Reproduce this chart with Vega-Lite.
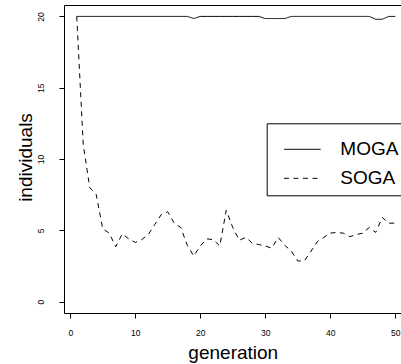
{
  "$schema": "https://vega.github.io/schema/vega-lite/v6.json",
  "width": 337.5,
  "height": 308,
  "autosize": {"type": "none"},
  "padding": {"left": 64, "top": 5, "right": 0, "bottom": 51},
  "background": "white",
  "config": {
    "view": {"stroke": "black", "strokeWidth": 1},
    "font": "Liberation Sans",
    "axis": {"labelFont": "Liberation Sans", "titleFont": "Liberation Sans", "tickColor": "black", "labelColor": "black", "titleColor": "black", "grid": false, "domain": false}
  },
  "data": {"values": [
    {"gen": 1, "individuals": 20, "method": "MOGA"},
    {"gen": 2, "individuals": 20, "method": "MOGA"},
    {"gen": 3, "individuals": 20, "method": "MOGA"},
    {"gen": 4, "individuals": 20, "method": "MOGA"},
    {"gen": 5, "individuals": 20, "method": "MOGA"},
    {"gen": 6, "individuals": 20, "method": "MOGA"},
    {"gen": 7, "individuals": 20, "method": "MOGA"},
    {"gen": 8, "individuals": 20, "method": "MOGA"},
    {"gen": 9, "individuals": 20, "method": "MOGA"},
    {"gen": 10, "individuals": 20, "method": "MOGA"},
    {"gen": 11, "individuals": 20, "method": "MOGA"},
    {"gen": 12, "individuals": 20, "method": "MOGA"},
    {"gen": 13, "individuals": 20, "method": "MOGA"},
    {"gen": 14, "individuals": 20, "method": "MOGA"},
    {"gen": 15, "individuals": 20, "method": "MOGA"},
    {"gen": 16, "individuals": 20, "method": "MOGA"},
    {"gen": 17, "individuals": 20, "method": "MOGA"},
    {"gen": 18, "individuals": 20, "method": "MOGA"},
    {"gen": 19, "individuals": 19.85, "method": "MOGA"},
    {"gen": 20, "individuals": 20, "method": "MOGA"},
    {"gen": 21, "individuals": 20, "method": "MOGA"},
    {"gen": 22, "individuals": 20, "method": "MOGA"},
    {"gen": 23, "individuals": 20, "method": "MOGA"},
    {"gen": 24, "individuals": 20, "method": "MOGA"},
    {"gen": 25, "individuals": 20, "method": "MOGA"},
    {"gen": 26, "individuals": 20, "method": "MOGA"},
    {"gen": 27, "individuals": 20, "method": "MOGA"},
    {"gen": 28, "individuals": 20, "method": "MOGA"},
    {"gen": 29, "individuals": 20, "method": "MOGA"},
    {"gen": 30, "individuals": 19.85, "method": "MOGA"},
    {"gen": 31, "individuals": 19.85, "method": "MOGA"},
    {"gen": 32, "individuals": 19.85, "method": "MOGA"},
    {"gen": 33, "individuals": 19.85, "method": "MOGA"},
    {"gen": 34, "individuals": 20, "method": "MOGA"},
    {"gen": 35, "individuals": 20, "method": "MOGA"},
    {"gen": 36, "individuals": 20, "method": "MOGA"},
    {"gen": 37, "individuals": 20, "method": "MOGA"},
    {"gen": 38, "individuals": 20, "method": "MOGA"},
    {"gen": 39, "individuals": 20, "method": "MOGA"},
    {"gen": 40, "individuals": 20, "method": "MOGA"},
    {"gen": 41, "individuals": 20, "method": "MOGA"},
    {"gen": 42, "individuals": 20, "method": "MOGA"},
    {"gen": 43, "individuals": 20, "method": "MOGA"},
    {"gen": 44, "individuals": 20, "method": "MOGA"},
    {"gen": 45, "individuals": 20, "method": "MOGA"},
    {"gen": 46, "individuals": 20, "method": "MOGA"},
    {"gen": 47, "individuals": 19.8, "method": "MOGA"},
    {"gen": 48, "individuals": 19.8, "method": "MOGA"},
    {"gen": 49, "individuals": 20, "method": "MOGA"},
    {"gen": 50, "individuals": 20, "method": "MOGA"},
    {"gen": 1, "individuals": 20, "method": "SOGA"},
    {"gen": 2, "individuals": 11, "method": "SOGA"},
    {"gen": 3, "individuals": 8.0, "method": "SOGA"},
    {"gen": 4, "individuals": 7.5, "method": "SOGA"},
    {"gen": 5, "individuals": 5.1, "method": "SOGA"},
    {"gen": 6, "individuals": 4.8, "method": "SOGA"},
    {"gen": 7, "individuals": 3.85, "method": "SOGA"},
    {"gen": 8, "individuals": 4.75, "method": "SOGA"},
    {"gen": 9, "individuals": 4.4, "method": "SOGA"},
    {"gen": 10, "individuals": 4.15, "method": "SOGA"},
    {"gen": 11, "individuals": 4.35, "method": "SOGA"},
    {"gen": 12, "individuals": 4.7, "method": "SOGA"},
    {"gen": 13, "individuals": 5.4, "method": "SOGA"},
    {"gen": 14, "individuals": 6.1, "method": "SOGA"},
    {"gen": 15, "individuals": 6.3, "method": "SOGA"},
    {"gen": 16, "individuals": 5.5, "method": "SOGA"},
    {"gen": 17, "individuals": 5.2, "method": "SOGA"},
    {"gen": 18, "individuals": 3.95, "method": "SOGA"},
    {"gen": 19, "individuals": 3.2, "method": "SOGA"},
    {"gen": 20, "individuals": 3.9, "method": "SOGA"},
    {"gen": 21, "individuals": 4.4, "method": "SOGA"},
    {"gen": 22, "individuals": 4.35, "method": "SOGA"},
    {"gen": 23, "individuals": 3.9, "method": "SOGA"},
    {"gen": 24, "individuals": 6.4, "method": "SOGA"},
    {"gen": 25, "individuals": 5.2, "method": "SOGA"},
    {"gen": 26, "individuals": 4.3, "method": "SOGA"},
    {"gen": 27, "individuals": 4.5, "method": "SOGA"},
    {"gen": 28, "individuals": 4.1, "method": "SOGA"},
    {"gen": 29, "individuals": 4.0, "method": "SOGA"},
    {"gen": 30, "individuals": 3.9, "method": "SOGA"},
    {"gen": 31, "individuals": 3.75, "method": "SOGA"},
    {"gen": 32, "individuals": 4.5, "method": "SOGA"},
    {"gen": 33, "individuals": 3.95, "method": "SOGA"},
    {"gen": 34, "individuals": 3.55, "method": "SOGA"},
    {"gen": 35, "individuals": 2.85, "method": "SOGA"},
    {"gen": 36, "individuals": 2.85, "method": "SOGA"},
    {"gen": 37, "individuals": 3.5, "method": "SOGA"},
    {"gen": 38, "individuals": 4.2, "method": "SOGA"},
    {"gen": 39, "individuals": 4.5, "method": "SOGA"},
    {"gen": 40, "individuals": 4.8, "method": "SOGA"},
    {"gen": 41, "individuals": 4.85, "method": "SOGA"},
    {"gen": 42, "individuals": 4.8, "method": "SOGA"},
    {"gen": 43, "individuals": 4.55, "method": "SOGA"},
    {"gen": 44, "individuals": 4.7, "method": "SOGA"},
    {"gen": 45, "individuals": 4.8, "method": "SOGA"},
    {"gen": 46, "individuals": 5.2, "method": "SOGA"},
    {"gen": 47, "individuals": 4.85, "method": "SOGA"},
    {"gen": 48, "individuals": 5.9, "method": "SOGA"},
    {"gen": 49, "individuals": 5.5, "method": "SOGA"},
    {"gen": 50, "individuals": 5.5, "method": "SOGA"}
  ]},
  "mark": {"type": "line", "strokeWidth": 1, "color": "black"},
  "encoding": {
    "x": {
      "field": "gen", "type": "quantitative",
      "scale": {"domain": [-0.96, 50.96], "nice": false, "zero": false},
      "axis": {"values": [0, 10, 20, 30, 40, 50], "title": "generation", "tickSize": 5, "labelFontSize": 8.5, "labelBaseline": "alphabetic", "labelPadding": 17, "labelFlush": false, "labelOverlap": false, "titleFontSize": 19, "titleFontWeight": "normal", "titleBaseline": "alphabetic", "titleY": 45}
    },
    "y": {
      "field": "individuals", "type": "quantitative",
      "scale": {"domain": [-0.8, 20.8], "nice": false, "zero": false},
      "axis": {"values": [0, 5, 10, 15, 20], "title": "individuals", "tickSize": 5, "labelFontSize": 8.5, "labelAngle": -90, "labelAlign": "center", "labelBaseline": "alphabetic", "labelPadding": 16, "labelFlush": false, "labelOverlap": false, "titleFontSize": 19, "titleFontWeight": "normal", "titleAngle": -90, "titleBaseline": "alphabetic", "titleX": -32.3, "titleY": 152}
    },
    "strokeDash": {
      "field": "method", "type": "nominal",
      "scale": {"domain": ["MOGA", "SOGA"], "range": [[1, 0], [5, 4.5]]},
      "legend": {"title": null, "orient": "none", "legendX": 202.7, "legendY": 118.3, "symbolType": "stroke", "symbolSize": 1347, "symbolStrokeWidth": 1, "symbolStrokeColor": "black", "symbolOffset": 9.6, "labelFont": "Liberation Sans", "labelFontSize": 19, "labelOffset": 19, "labelColor": "black", "labelLimit": 0, "strokeColor": "black", "fillColor": "white", "padding": 7, "rowPadding": -1}
    }
  }
}
